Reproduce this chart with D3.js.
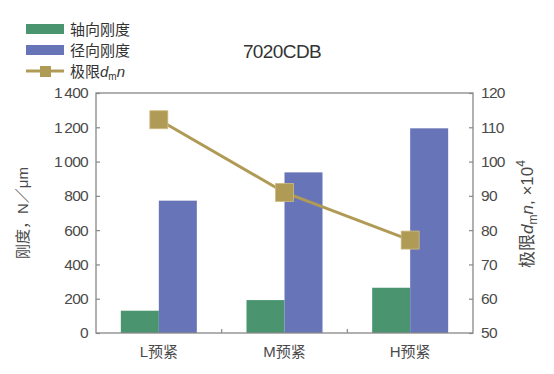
<!DOCTYPE html>
<html>
<head>
<meta charset="utf-8">
<script src="https://cdn.jsdelivr.net/npm/d3@7"></script>
<style>
body{margin:0;background:white;font-family:"Liberation Sans","Noto Sans CJK SC",sans-serif;}
</style>
</head>
<body>
<div id="chart"></div>
<script>
// data
var categories = ["L预紧","M预紧","H预紧"]
var axialStiff = [130,192,264]
var radialStiff = [772,937,1194]
var limitDmn = [112.2,91.0,77.1]
var leftTicks = [0,200,400,600,800,1000,1200,1400]
var rightTicks = [50,60,70,80,90,100,110,120]

var green = "#4a9570"
var blue = "#6874b8"
var gold = "#b09b56"
var axisColor = "#888"
var textColor = "#4a4a4a"

var W = 554, H = 374
var plotL = 96, plotR = 473, plotT = 93, plotB = 333

var svg = d3.select("#chart").append("svg")
.attr("width",W)
.attr("height",H)

var x = d3.scaleBand().domain(categories).range([plotL,plotR])
var yL = d3.scaleLinear().domain([0,1400]).range([plotB,plotT])
var yR = d3.scaleLinear().domain([50,120]).range([plotB,plotT])
var barW = 38

function fmt(v){
var s = String(v)
if(s.length>3) s = s.slice(0,s.length-3)+"\u2009"+s.slice(s.length-3)
return s
}

// bars
svg.selectAll(".axial")
.data(axialStiff)
.enter()
.append("rect")
.attr("x",function(d,i){return x(categories[i])+x.bandwidth()/2-barW})
.attr("y",function(d){return yL(d)})
.attr("width",barW)
.attr("height",function(d){return yL(0)-yL(d)})
.attr("fill",green)

svg.selectAll(".radial")
.data(radialStiff)
.enter()
.append("rect")
.attr("x",function(d,i){return x(categories[i])+x.bandwidth()/2})
.attr("y",function(d){return yL(d)})
.attr("width",barW)
.attr("height",function(d){return yL(0)-yL(d)})
.attr("fill",blue)

// frame
svg.append("rect")
.attr("x",plotL).attr("y",plotT)
.attr("width",plotR-plotL).attr("height",plotB-plotT)
.attr("fill","none").attr("stroke",axisColor).attr("stroke-width",1.3)

// left axis
var gl = svg.append("g").attr("transform","translate("+plotL+",0)")
.call(d3.axisLeft(yL).tickValues(leftTicks).tickSizeInner(-4).tickSizeOuter(0).tickPadding(8).tickFormat(fmt))
gl.select(".domain").remove()
gl.selectAll("line").attr("stroke",axisColor).attr("stroke-width",1.2)
gl.selectAll("text").attr("fill",textColor).attr("font-size",15.5).attr("font-family","Liberation Sans")
.attr("letter-spacing","-0.7px")

// right axis
var gr = svg.append("g").attr("transform","translate("+plotR+",0)")
.call(d3.axisRight(yR).tickValues(rightTicks).tickSizeInner(-4).tickSizeOuter(0).tickPadding(8))
gr.select(".domain").remove()
gr.selectAll("line").attr("stroke",axisColor).attr("stroke-width",1.2)
gr.selectAll("text").attr("fill",textColor).attr("font-size",15.5).attr("font-family","Liberation Sans")
.attr("letter-spacing","-0.7px")

// bottom ticks between categories
svg.selectAll(".sep")
.data(categories.slice(1))
.enter()
.append("line")
.attr("x1",function(d){return x(d)}).attr("x2",function(d){return x(d)})
.attr("y1",plotB).attr("y2",plotB-4)
.attr("stroke",axisColor).attr("stroke-width",1.2)

svg.selectAll(".cat")
.data(categories)
.enter()
.append("text")
.attr("x",function(d){return x(d)+x.bandwidth()/2})
.attr("y",357)
.attr("text-anchor","middle")
.attr("font-size",15)
.attr("fill",textColor)
.text(function(d){return d})

// line
var line = d3.line()
.x(function(d,i){return x(categories[i])+x.bandwidth()/2})
.y(function(d){return yR(d)})
svg.append("path")
.datum(limitDmn)
.attr("d",line)
.attr("fill","none")
.attr("stroke",gold)
.attr("stroke-width",3)

var ms = 18
svg.selectAll(".mk")
.data(limitDmn)
.enter()
.append("rect")
.attr("x",function(d,i){return x(categories[i])+x.bandwidth()/2-ms/2})
.attr("y",function(d){return yR(d)-ms/2})
.attr("width",ms).attr("height",ms)
.attr("fill",gold)
.attr("stroke","#cdbb80").attr("stroke-width",0.8)

// title
svg.append("text")
.attr("x",282).attr("y",58)
.attr("text-anchor","middle")
.attr("font-size",19)
.attr("letter-spacing","-0.6px")
.attr("fill","#333")
.text("7020CDB")

// axis titles
svg.append("text")
.attr("transform","translate(28,213) rotate(-90)")
.attr("text-anchor","middle")
.attr("font-size",15)
.attr("fill",textColor)
.text("刚度，N／μm")

var rt = svg.append("text")
.attr("transform","translate(533,214) rotate(-90)")
.attr("text-anchor","middle")
.attr("font-size",17)
.attr("fill",textColor)
rt.append("tspan").text("极限")
rt.append("tspan").attr("font-style","italic").text("d")
rt.append("tspan").attr("font-size",12).attr("dy",4).text("m")
rt.append("tspan").attr("font-style","italic").attr("dy",-4).text("n")
rt.append("tspan").text(", ×10")
rt.append("tspan").attr("font-size",12).attr("dy",-8).text("4")

// legend
var legend = [{name:"轴向刚度",type:"bar",color:green},{name:"径向刚度",type:"bar",color:blue},{name:"极限",type:"line",color:gold}]
var lg = svg.selectAll(".lg")
.data(legend)
.enter()
.append("g")
.attr("transform",function(d,i){return "translate(26,"+(29+i*21)+")"})
lg.filter(function(d){return d.type=="bar"})
.append("rect")
.attr("x",0).attr("y",-5).attr("width",38).attr("height",10)
.attr("fill",function(d){return d.color})
var ll = lg.filter(function(d){return d.type=="line"})
ll.append("line").attr("x1",0).attr("x2",38).attr("y1",0).attr("y2",0)
.attr("stroke",gold).attr("stroke-width",3)
ll.append("rect").attr("x",14).attr("y",-5).attr("width",11).attr("height",11).attr("fill",gold)
var lt = lg.append("text")
.attr("x",44).attr("y",5.5)
.attr("font-size",15)
.attr("fill","#333")
.text(function(d){return d.name})
var lastT = lt.filter(function(d){return d.type=="line"})
lastT.append("tspan").attr("font-style","italic").text("d")
lastT.append("tspan").attr("font-size",10).attr("dy",3).text("m")
lastT.append("tspan").attr("font-style","italic").attr("dy",-3).text("n")
</script>
</body>
</html>
